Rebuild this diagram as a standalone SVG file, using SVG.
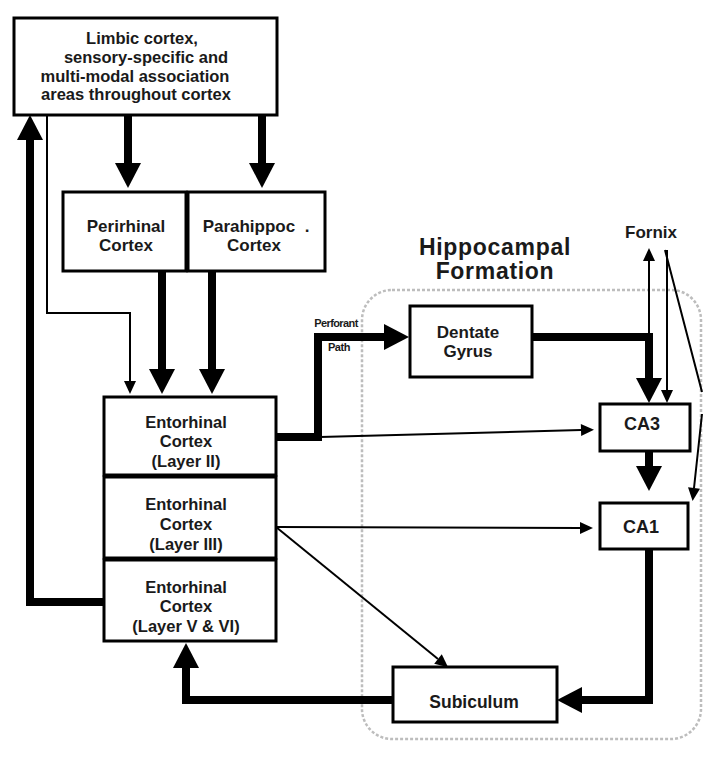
<svg xmlns="http://www.w3.org/2000/svg" width="714" height="758" viewBox="0 0 714 758">
  <style>
    .box { fill: #fff; stroke: #000; stroke-width: 3; }
    .lbl { font-family: "Liberation Sans", Arial, sans-serif; font-weight: bold; fill: #1a1a1a; text-anchor: middle; }
    .thick { fill: none; stroke: #000; stroke-width: 8; stroke-linejoin: miter; }
    .thin { fill: none; stroke: #000; stroke-width: 2; }
    .region { fill: none; stroke: #bdbdbd; stroke-width: 2.5; stroke-dasharray: 3 2; }
  </style>
  <defs>
    <marker id="big" markerUnits="userSpaceOnUse" markerWidth="30" markerHeight="30" viewBox="0 -15 30 30" refX="0" refY="0" orient="auto" overflow="visible">
      <path d="M0,-13 L25,0 L0,13 Z" fill="#000"/>
    </marker>
    <marker id="small" markerUnits="userSpaceOnUse" markerWidth="16" markerHeight="16" viewBox="0 -8 16 16" refX="0" refY="0" orient="auto" overflow="visible">
      <path d="M0,-6 L13,0 L0,6 Z" fill="#000"/>
    </marker>
  </defs>

  <rect width="714" height="758" fill="#fff"/>

  <!-- hippocampal formation outline -->
  <g id="hippocampal-formation">
    <rect class="region" x="362" y="290" width="339" height="449" rx="30" ry="30"/>
    <text class="lbl" x="495" y="255" font-size="23" letter-spacing="0.7">Hippocampal</text>
    <text class="lbl" x="495" y="279" font-size="23" letter-spacing="0.7">Formation</text>
  </g>

  <!-- connectors -->
  <g id="connectors">
    <path class="thick" d="M128,115 L128,163" marker-end="url(#big)"/>
    <path class="thick" d="M262,115 L262,163" marker-end="url(#big)"/>
    <path class="thick" d="M162,271 L162,369" marker-end="url(#big)"/>
    <path class="thick" d="M212,271 L212,369" marker-end="url(#big)"/>
    <path class="thin" d="M47,115 L47,313 L130,313 L130,381" marker-end="url(#small)"/>
    <path class="thick" d="M104,602 L30,602 L30,140" marker-end="url(#big)"/>
    <path class="thick" d="M276,437 L318,437 L318,337 L384,337" marker-end="url(#big)"/>
    <path class="thin" d="M320,437 L581,430" marker-end="url(#small)"/>
    <path class="thin" d="M276,527 L580,528" marker-end="url(#small)"/>
    <path class="thin" d="M276,527 L438,659" marker-end="url(#small)"/>
    <path class="thick" d="M532,337 L649,337 L649,378" marker-end="url(#big)"/>
    <path class="thin" d="M649,341 L649,261" marker-end="url(#small)"/>
    <path class="thin" d="M667,250 L667,390" marker-end="url(#small)"/>
    <path class="thin" d="M665,250 L702,392 M702,414 L694,488" marker-end="url(#small)"/>
    <path class="thick" d="M649,451 L649,466" marker-end="url(#big)"/>
    <path class="thick" d="M649,549 L649,700 L582,700" marker-end="url(#big)"/>
    <path class="thick" d="M393,700 L186,700 L186,668" marker-end="url(#big)"/>
  </g>

  <g id="association-cortex">
    <rect class="box" x="14" y="18" width="263" height="97"/>
    <text class="lbl" font-size="16.5" x="142" y="43.5">Limbic cortex,</text>
    <text class="lbl" font-size="16.5" x="146" y="62.5">sensory-specific and</text>
    <text class="lbl" font-size="16.5" x="135" y="81.5">multi-modal association</text>
    <text class="lbl" font-size="16.5" x="136" y="100">areas throughout cortex</text>
  </g>

  <g id="perirhinal-cortex">
    <rect class="box" x="63" y="192" width="123" height="79"/>
    <text class="lbl" font-size="17" x="126" y="232">Perirhinal</text>
    <text class="lbl" font-size="17" x="126" y="251">Cortex</text>
  </g>

  <g id="parahippocampal-cortex">
    <rect class="box" x="188" y="192" width="137" height="79"/>
    <text class="lbl" font-size="17" x="256" y="232" xml:space="preserve">Parahippoc  .</text>
    <text class="lbl" font-size="17" x="254" y="251">Cortex</text>
  </g>

  <g id="entorhinal-layer-ii">
    <rect class="box" x="104" y="397" width="172" height="78"/>
    <text class="lbl" font-size="16.5" x="186" y="428">Entorhinal</text>
    <text class="lbl" font-size="16.5" x="186" y="447">Cortex</text>
    <text class="lbl" font-size="16.5" x="186" y="467">(Layer II)</text>
  </g>

  <g id="entorhinal-layer-iii">
    <rect class="box" x="104" y="477" width="172" height="81"/>
    <text class="lbl" font-size="16.5" x="186" y="510">Entorhinal</text>
    <text class="lbl" font-size="16.5" x="186" y="530">Cortex</text>
    <text class="lbl" font-size="16.5" x="186" y="550">(Layer III)</text>
  </g>

  <g id="entorhinal-layer-v-vi">
    <rect class="box" x="104" y="560" width="172" height="81"/>
    <text class="lbl" font-size="16.5" x="186" y="593">Entorhinal</text>
    <text class="lbl" font-size="16.5" x="186" y="612">Cortex</text>
    <text class="lbl" font-size="16.5" x="186" y="632">(Layer V &amp; VI)</text>
  </g>

  <g id="perforant-path-label">
    <text class="lbl" font-size="11" letter-spacing="-0.6" x="336" y="327">Perforant</text>
    <text class="lbl" font-size="11" letter-spacing="-0.4" x="339" y="351">Path</text>
  </g>

  <g id="dentate-gyrus">
    <rect class="box" x="410" y="306" width="122" height="71"/>
    <text class="lbl" font-size="17" x="468" y="338">Dentate</text>
    <text class="lbl" font-size="17" x="468" y="357">Gyrus</text>
  </g>

  <g id="ca3">
    <rect class="box" x="600" y="404" width="90" height="47"/>
    <text class="lbl" font-size="18" x="642" y="430">CA3</text>
  </g>

  <g id="ca1">
    <rect class="box" x="600" y="503" width="88" height="46"/>
    <text class="lbl" font-size="18" x="641" y="533">CA1</text>
  </g>

  <g id="subiculum">
    <rect class="box" x="393" y="667" width="164" height="55"/>
    <text class="lbl" font-size="17.5" x="474" y="708">Subiculum</text>
  </g>

  <g id="fornix">
    <text class="lbl" font-size="17" x="651" y="238">Fornix</text>
  </g>
</svg>
